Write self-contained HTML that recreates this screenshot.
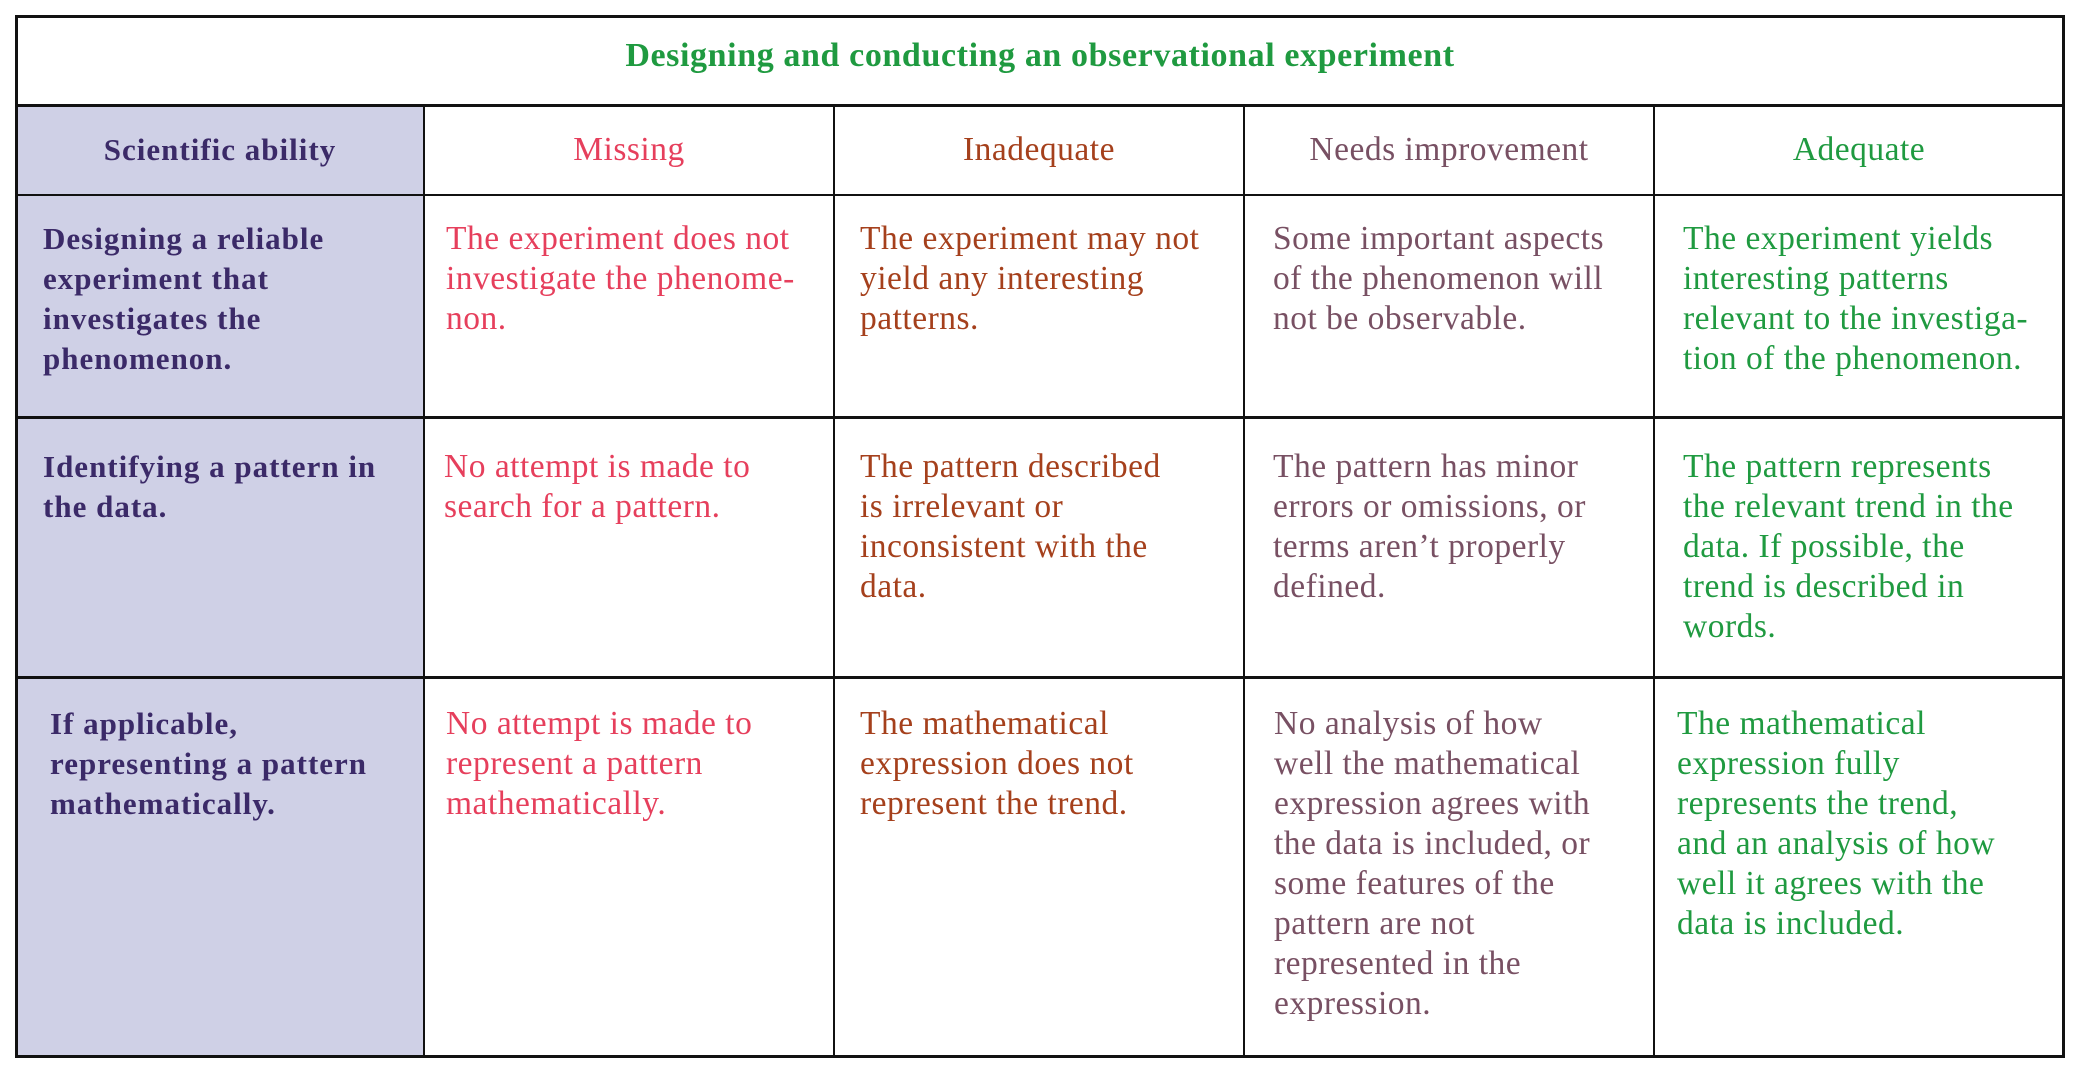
<!DOCTYPE html>
<html><head><meta charset="utf-8"><style>
body{margin:0;background:#fff;width:2080px;height:1073px;position:relative;overflow:hidden;font-family:"Liberation Serif",serif;}
.b{position:absolute;background:#111;}
.t{position:absolute;font-size:33.5px;line-height:40px;white-space:nowrap;letter-spacing:0.5px;}
.p{color:#3b2a68;font-weight:bold;font-size:31px;letter-spacing:1px;}
.m{color:#e63f5c}.i{color:#a5401c}.n{color:#785063}.a{color:#1f9a40}
</style></head><body>
<div style="position:absolute;left:16px;top:105px;width:408px;height:952px;background:#cfd0e6"></div>
<div class="b" style="left:15px;top:15px;width:2050px;height:3px"></div>
<div class="b" style="left:15px;top:104px;width:2050px;height:3px"></div>
<div class="b" style="left:15px;top:194px;width:2050px;height:2px"></div>
<div class="b" style="left:15px;top:416px;width:2050px;height:3px"></div>
<div class="b" style="left:15px;top:676px;width:2050px;height:3px"></div>
<div class="b" style="left:15px;top:1055px;width:2050px;height:3px"></div>
<div class="b" style="left:15px;top:15px;width:3px;height:1043px"></div>
<div class="b" style="left:2062px;top:15px;width:3px;height:1043px"></div>
<div class="b" style="left:423px;top:105px;width:2px;height:952px"></div>
<div class="b" style="left:833px;top:105px;width:2px;height:952px"></div>
<div class="b" style="left:1243px;top:105px;width:2px;height:952px"></div>
<div class="b" style="left:1653px;top:105px;width:2px;height:952px"></div>

<div class="t a" style="left:16px;width:2048px;text-align:center;top:36px;font-weight:bold;font-size:34px;letter-spacing:0.6px">Designing and conducting an observational experiment</div>
<div class="t p" style="left:16px;width:408px;text-align:center;top:130px">Scientific ability</div>
<div class="t m" style="left:424px;width:410px;text-align:center;top:130px">Missing</div>
<div class="t i" style="left:834px;width:410px;text-align:center;top:130px">Inadequate</div>
<div class="t n" style="left:1244px;width:410px;text-align:center;top:130px">Needs improvement</div>
<div class="t a" style="left:1654px;width:410px;text-align:center;top:130px">Adequate</div>

<div class="t p" style="left:43px;top:219px">Designing a reliable<br>experiment that<br>investigates the<br>phenomenon.</div>
<div class="t m" style="left:446px;top:219px">The experiment does not<br>investigate the phenome-<br>non.</div>
<div class="t i" style="left:860px;top:219px">The experiment may not<br>yield any interesting<br>patterns.</div>
<div class="t n" style="left:1273px;top:219px">Some important aspects<br>of the phenomenon will<br>not be observable.</div>
<div class="t a" style="left:1683px;top:219px">The experiment yields<br>interesting patterns<br>relevant to the investiga-<br>tion of the phenomenon.</div>

<div class="t p" style="left:43px;top:447px">Identifying a pattern in<br>the data.</div>
<div class="t m" style="left:444px;top:447px">No attempt is made to<br>search for a pattern.</div>
<div class="t i" style="left:860px;top:447px">The pattern described<br>is irrelevant or<br>inconsistent with the<br>data.</div>
<div class="t n" style="left:1273px;top:447px">The pattern has minor<br>errors or omissions, or<br>terms aren’t properly<br>defined.</div>
<div class="t a" style="left:1683px;top:447px">The pattern represents<br>the relevant trend in the<br>data. If possible, the<br>trend is described in<br>words.</div>

<div class="t p" style="left:50px;top:704px">If applicable,<br>representing a pattern<br>mathematically.</div>
<div class="t m" style="left:446px;top:704px">No attempt is made to<br>represent a pattern<br>mathematically.</div>
<div class="t i" style="left:860px;top:704px">The mathematical<br>expression does not<br>represent the trend.</div>
<div class="t n" style="left:1274px;top:704px">No analysis of how<br>well the mathematical<br>expression agrees with<br>the data is included, or<br>some features of the<br>pattern are not<br>represented in the<br>expression.</div>
<div class="t a" style="left:1677px;top:704px">The mathematical<br>expression fully<br>represents the trend,<br>and an analysis of how<br>well it agrees with the<br>data is included.</div>
</body></html>
